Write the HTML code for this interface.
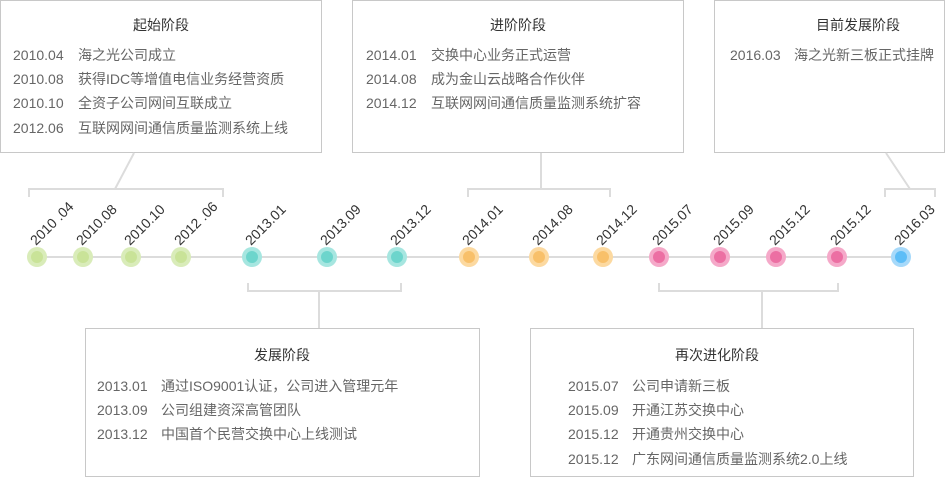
<!DOCTYPE html>
<html><head><meta charset="utf-8"><style>
html,body{margin:0;padding:0;background:#fff;}
svg{display:block;}
text{font-family:"Liberation Sans","Noto Sans CJK SC",sans-serif;}
</style></head><body>
<svg width="945" height="477" viewBox="0 0 945 477" xmlns="http://www.w3.org/2000/svg">
<g fill="#fff" stroke="#c8c8c8" stroke-width="1">
<rect x="0.5" y="0.5" width="321" height="152"/>
<rect x="352.5" y="0.5" width="331" height="152"/>
<rect x="714.5" y="0.5" width="230" height="152"/>
<rect x="85.5" y="328.5" width="394" height="148"/>
<rect x="530.5" y="328.5" width="383" height="148"/>
</g>
<g fill="none" stroke="#dcdcdc" stroke-width="2">
<polyline points="29,197 29,189 223,189 223,197"/>
<line x1="115" y1="189" x2="134" y2="153"/>
<polyline points="468,197 468,189 610,189 610,197"/>
<line x1="541" y1="189" x2="541" y2="153"/>
<polyline points="885,197 885,189 935,189 935,197"/>
<line x1="910" y1="189" x2="886" y2="153"/>
<polyline points="248,283 248,291 401,291 401,283"/>
<line x1="319" y1="291" x2="319" y2="328"/>
<polyline points="659,283 659,291 838,291 838,283"/>
<line x1="762" y1="291" x2="762" y2="328"/>
<line x1="37" y1="257" x2="901" y2="257"/>
</g>
<g>
<g fill="#d9ecb9"><circle cx="37" cy="257" r="10"/><circle cx="83" cy="257" r="10"/><circle cx="131" cy="257" r="10"/><circle cx="181" cy="257" r="10"/></g>
<g fill="#c9e398"><circle cx="37" cy="257" r="6"/><circle cx="83" cy="257" r="6"/><circle cx="131" cy="257" r="6"/><circle cx="181" cy="257" r="6"/></g>
<g fill="#a6e6e0"><circle cx="252" cy="257" r="10"/><circle cx="327" cy="257" r="10"/><circle cx="397" cy="257" r="10"/></g>
<g fill="#6dd5cc"><circle cx="252" cy="257" r="6"/><circle cx="327" cy="257" r="6"/><circle cx="397" cy="257" r="6"/></g>
<g fill="#fcd9a0"><circle cx="469" cy="257" r="10"/><circle cx="539" cy="257" r="10"/><circle cx="603" cy="257" r="10"/></g>
<g fill="#f8c06a"><circle cx="469" cy="257" r="6"/><circle cx="539" cy="257" r="6"/><circle cx="603" cy="257" r="6"/></g>
<g fill="#f5a9c9"><circle cx="659" cy="257" r="10"/><circle cx="720" cy="257" r="10"/><circle cx="776" cy="257" r="10"/><circle cx="837" cy="257" r="10"/></g>
<g fill="#ec6fa3"><circle cx="659" cy="257" r="6"/><circle cx="720" cy="257" r="6"/><circle cx="776" cy="257" r="6"/><circle cx="837" cy="257" r="6"/></g>
<circle cx="901" cy="257" r="10" fill="#a6d9fa"/><circle cx="901" cy="257" r="6" fill="#5cbdf7"/>
</g>
<g font-size="14" fill="#333">
<text transform="translate(36,246) rotate(-45)">2010 .04</text>
<text transform="translate(82,246) rotate(-45)">2010.08</text>
<text transform="translate(130,246) rotate(-45)">2010.10</text>
<text transform="translate(180,246) rotate(-45)">2012 .06</text>
<text transform="translate(251,246) rotate(-45)">2013.01</text>
<text transform="translate(326,246) rotate(-45)">2013.09</text>
<text transform="translate(396,246) rotate(-45)">2013.12</text>
<text transform="translate(468,246) rotate(-45)">2014.01</text>
<text transform="translate(538,246) rotate(-45)">2014.08</text>
<text transform="translate(602,246) rotate(-45)">2014.12</text>
<text transform="translate(658,246) rotate(-45)">2015.07</text>
<text transform="translate(719,246) rotate(-45)">2015.09</text>
<text transform="translate(775,246) rotate(-45)">2015.12</text>
<text transform="translate(836,246) rotate(-45)">2015.12</text>
<text transform="translate(900,246) rotate(-45)">2016.03</text>
</g>
<g font-size="14" fill="#333" text-anchor="middle">
<text x="161" y="30">起始阶段</text>
<text x="518" y="30">进阶阶段</text>
<text x="858" y="30">目前发展阶段</text>
<text x="282" y="360">发展阶段</text>
<text x="717" y="360">再次进化阶段</text>
</g>
<g font-size="14" fill="#666">
<text x="13" y="60">2010.04</text><text x="78" y="60">海之光公司成立</text>
<text x="13" y="84">2010.08</text><text x="78" y="84">获得IDC等增值电信业务经营资质</text>
<text x="13" y="108">2010.10</text><text x="78" y="108">全资子公司网间互联成立</text>
<text x="13" y="133">2012.06</text><text x="78" y="133">互联网网间通信质量监测系统上线</text>
<text x="366" y="60">2014.01</text><text x="431" y="60">交换中心业务正式运营</text>
<text x="366" y="84">2014.08</text><text x="431" y="84">成为金山云战略合作伙伴</text>
<text x="366" y="108">2014.12</text><text x="431" y="108">互联网网间通信质量监测系统扩容</text>
<text x="730" y="60">2016.03</text><text x="794" y="60">海之光新三板正式挂牌</text>
<text x="97" y="391">2013.01</text><text x="161" y="391">通过ISO9001认证，公司进入管理元年</text>
<text x="97" y="415">2013.09</text><text x="161" y="415">公司组建资深高管团队</text>
<text x="97" y="439">2013.12</text><text x="161" y="439">中国首个民营交换中心上线测试</text>
<text x="568" y="391">2015.07</text><text x="632" y="391">公司申请新三板</text>
<text x="568" y="415">2015.09</text><text x="632" y="415">开通江苏交换中心</text>
<text x="568" y="439">2015.12</text><text x="632" y="439">开通贵州交换中心</text>
<text x="568" y="464">2015.12</text><text x="632" y="464">广东网间通信质量监测系统2.0上线</text>
</g>
</svg>
</body></html>
